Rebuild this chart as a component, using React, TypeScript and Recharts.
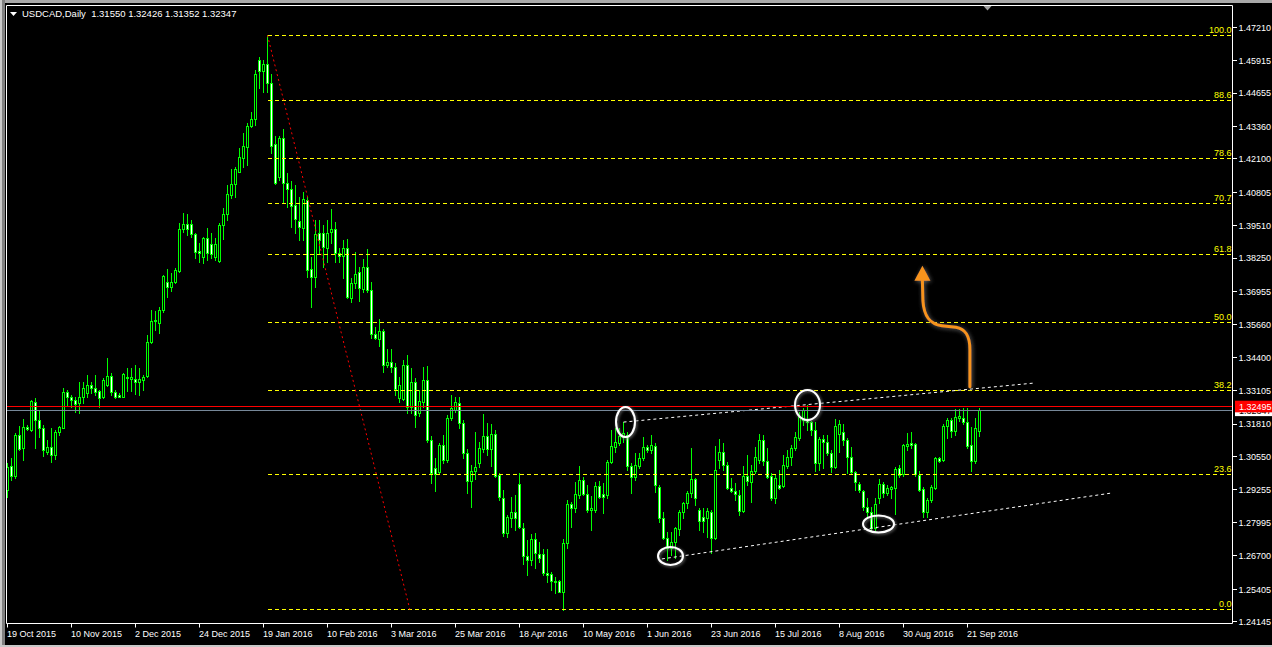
import React from "react";
import { ComposedChart, Bar, XAxis, YAxis, ReferenceLine, ReferenceDot } from "recharts";

// USDCAD daily candles, 19 Oct 2015 .. 26 Sep 2016
const opens = [
  1.2926, 1.3019, 1.2978, 1.3140, 1.3088, 1.3169, 1.3160, 1.3266, 1.3198, 1.3165,
  1.3072, 1.3094, 1.3062, 1.3150, 1.3168, 1.3305, 1.3286, 1.3275, 1.3262, 1.3288,
  1.3301, 1.3334, 1.3321, 1.3308, 1.3286, 1.3334, 1.3368, 1.3305, 1.3295, 1.3288,
  1.3363, 1.3357, 1.3356, 1.3344, 1.3353, 1.3366, 1.3498, 1.3583, 1.3575, 1.3624,
  1.3732, 1.3715, 1.3731, 1.3777, 1.3937, 1.3958, 1.3957, 1.3918, 1.3851, 1.3829,
  1.3902, 1.3879, 1.3831, 1.3815, 1.3952, 1.3996, 1.4071, 1.4111, 1.4161, 1.4213,
  1.4258, 1.4338, 1.4364, 1.4594, 1.4553, 1.4577, 1.4504, 1.4268, 1.4141, 1.4291,
  1.4117, 1.4093, 1.4031, 1.3970, 1.3942, 1.4051, 1.3783, 1.3752, 1.3923, 1.3923,
  1.3865, 1.3927, 1.3938, 1.3846, 1.3834, 1.3865, 1.3670, 1.3729, 1.3772, 1.3705,
  1.3791, 1.3702, 1.3531, 1.3512, 1.3543, 1.3411, 1.3422, 1.3403, 1.3283, 1.3279,
  1.3411, 1.3248, 1.3345, 1.3224, 1.3267, 1.3352, 1.3120, 1.3011, 1.2996, 1.3100,
  1.3042, 1.3205, 1.3236, 1.3263, 1.3186, 1.3069, 1.2960, 1.2999, 1.3030, 1.3085,
  1.3135, 1.3085, 1.3143, 1.2984, 1.2894, 1.2759, 1.2817, 1.2840, 1.2949, 1.2778,
  1.2669, 1.2654, 1.2735, 1.2677, 1.2677, 1.2603, 1.2600, 1.2573, 1.2573, 1.2530,
  1.2720, 1.2871, 1.2856, 1.2905, 1.2964, 1.2910, 1.2848, 1.2848, 1.2941, 1.2910,
  1.2906, 1.3034, 1.3092, 1.3108, 1.3130, 1.3140, 1.3019, 1.2976, 1.3019, 1.3050,
  1.3092, 1.3081, 1.3096, 1.2937, 1.2817, 1.2739, 1.2700, 1.2724, 1.2775, 1.2840,
  1.2875, 1.2914, 1.2968, 1.2848, 1.2821, 1.2817, 1.2840, 1.2739, 1.3042, 1.3073,
  1.3023, 1.2933, 1.2922, 1.2906, 1.2844, 1.2980, 1.2957, 1.2999, 1.3042, 1.3120,
  1.3038, 1.2980, 1.2895, 1.2945, 1.2941, 1.3019, 1.3054, 1.3089, 1.3127, 1.3197,
  1.3197, 1.3189, 1.3158, 1.3030, 1.3123, 1.3112, 1.3069, 1.3015, 1.3143, 1.3151,
  1.3120, 1.3054, 1.2995, 1.2949, 1.2922, 1.2860, 1.2840, 1.2778, 1.2894, 1.2949,
  1.2914, 1.2929, 1.2933, 1.3011, 1.2988, 1.3096, 1.3108, 1.3104, 1.2984, 1.2929,
  1.2840, 1.2887, 1.2933, 1.3050, 1.3042, 1.3174, 1.3197, 1.3154, 1.3205, 1.3205,
  1.3189, 1.3100, 1.3038, 1.3155,
];

const highs = [
  1.3030, 1.3049, 1.3146, 1.3172, 1.3200, 1.3178, 1.3275, 1.3282, 1.3237, 1.3178,
  1.3120, 1.3165, 1.3159, 1.3174, 1.3321, 1.3312, 1.3295, 1.3288, 1.3346, 1.3346,
  1.3372, 1.3343, 1.3372, 1.3314, 1.3359, 1.3437, 1.3379, 1.3314, 1.3301, 1.3381,
  1.3398, 1.3398, 1.3411, 1.3398, 1.3372, 1.3528, 1.3624, 1.3622, 1.3637, 1.3760,
  1.3782, 1.3769, 1.3786, 1.3961, 1.4001, 1.3997, 1.3974, 1.3924, 1.3883, 1.3909,
  1.3941, 1.3924, 1.3902, 1.3961, 1.4019, 1.4109, 1.4170, 1.4180, 1.4252, 1.4310,
  1.4351, 1.4394, 1.4555, 1.4607, 1.4594, 1.4690, 1.4540, 1.4299, 1.4299, 1.4326,
  1.4156, 1.4125, 1.4109, 1.4064, 1.4082, 1.4064, 1.3830, 1.3974, 1.3974, 1.3954,
  1.3974, 1.4016, 1.3966, 1.3865, 1.3896, 1.3900, 1.3748, 1.3849, 1.3791, 1.3822,
  1.3861, 1.3733, 1.3558, 1.3589, 1.3550, 1.3473, 1.3473, 1.3418, 1.3364, 1.3430,
  1.3449, 1.3399, 1.3360, 1.3314, 1.3403, 1.3407, 1.3135, 1.3050, 1.3108, 1.3139,
  1.3217, 1.3294, 1.3286, 1.3286, 1.3197, 1.3085, 1.3023, 1.3151, 1.3112, 1.3220,
  1.3185, 1.3182, 1.3158, 1.2992, 1.2926, 1.2828, 1.2898, 1.2906, 1.2992, 1.2797,
  1.2732, 1.2755, 1.2759, 1.2722, 1.2697, 1.2697, 1.2607, 1.2588, 1.2575, 1.2735,
  1.2887, 1.2879, 1.2956, 1.3019, 1.2976, 1.2945, 1.2902, 1.2956, 1.2960, 1.2953,
  1.3042, 1.3158, 1.3166, 1.3166, 1.3189, 1.3150, 1.3030, 1.3069, 1.3069, 1.3131,
  1.3100, 1.3139, 1.3108, 1.2945, 1.2840, 1.2763, 1.2763, 1.2782, 1.2848, 1.2879,
  1.2922, 1.3089, 1.2972, 1.2856, 1.2856, 1.2856, 1.2848, 1.3096, 1.3123, 1.3108,
  1.3034, 1.2972, 1.2953, 1.2926, 1.3019, 1.3061, 1.3023, 1.3092, 1.3143, 1.3139,
  1.3089, 1.2992, 1.2984, 1.3003, 1.3061, 1.3081, 1.3100, 1.3151, 1.3228, 1.3244,
  1.3255, 1.3193, 1.3189, 1.3131, 1.3139, 1.3139, 1.3081, 1.3201, 1.3197, 1.3182,
  1.3127, 1.3092, 1.2999, 1.2957, 1.2926, 1.2894, 1.2860, 1.2894, 1.2968, 1.2957,
  1.2945, 1.2941, 1.3015, 1.3023, 1.3104, 1.3147, 1.3151, 1.3108, 1.2999, 1.2937,
  1.2894, 1.2945, 1.3054, 1.3054, 1.3182, 1.3205, 1.3205, 1.3240, 1.3240, 1.3244,
  1.3244, 1.3170, 1.3205, 1.32426,
];

const lows = [
  1.2898, 1.2965, 1.2972, 1.3081, 1.3043, 1.3159, 1.3156, 1.3088, 1.3133, 1.3056,
  1.3066, 1.3036, 1.3045, 1.3140, 1.3165, 1.3250, 1.3247, 1.3230, 1.3224, 1.3262,
  1.3288, 1.3301, 1.3295, 1.3247, 1.3282, 1.3330, 1.3295, 1.3282, 1.3286, 1.3286,
  1.3308, 1.3308, 1.3299, 1.3295, 1.3314, 1.3363, 1.3495, 1.3547, 1.3534, 1.3618,
  1.3674, 1.3696, 1.3728, 1.3773, 1.3928, 1.3915, 1.3909, 1.3825, 1.3812, 1.3805,
  1.3818, 1.3825, 1.3818, 1.3812, 1.3899, 1.3974, 1.4058, 1.4064, 1.4161, 1.4180,
  1.4187, 1.4333, 1.4342, 1.4484, 1.4471, 1.4471, 1.4233, 1.4113, 1.4128, 1.4044,
  1.4025, 1.3947, 1.3923, 1.3896, 1.3896, 1.3753, 1.3636, 1.3714, 1.3845, 1.3791,
  1.3810, 1.3884, 1.3810, 1.3810, 1.3748, 1.3671, 1.3655, 1.3709, 1.3659, 1.3694,
  1.3694, 1.3515, 1.3512, 1.3484, 1.3383, 1.3403, 1.3383, 1.3294, 1.3267, 1.3275,
  1.3224, 1.3224, 1.3170, 1.3213, 1.3248, 1.3112, 1.2951, 1.2922, 1.2988, 1.3030,
  1.3034, 1.3197, 1.3228, 1.3166, 1.3050, 1.2914, 1.2860, 1.2968, 1.3015, 1.3073,
  1.3061, 1.3019, 1.2976, 1.2887, 1.2747, 1.2743, 1.2782, 1.2770, 1.2778, 1.2637,
  1.2594, 1.2635, 1.2623, 1.2646, 1.2596, 1.2569, 1.2536, 1.2525, 1.2528, 1.2461,
  1.2700, 1.2782, 1.2840, 1.2895, 1.2906, 1.2840, 1.2770, 1.2840, 1.2894, 1.2836,
  1.2894, 1.3030, 1.3073, 1.3100, 1.3112, 1.3003, 1.2914, 1.2964, 1.3011, 1.3042,
  1.3073, 1.3069, 1.2918, 1.2801, 1.2735, 1.2654, 1.2673, 1.2662, 1.2751, 1.2817,
  1.2856, 1.2898, 1.2867, 1.2770, 1.2763, 1.2743, 1.2681, 1.2735, 1.3011, 1.3003,
  1.2930, 1.2918, 1.2887, 1.2828, 1.2840, 1.2945, 1.2879, 1.2992, 1.3030, 1.3023,
  1.2972, 1.2887, 1.2875, 1.2929, 1.2937, 1.3011, 1.3023, 1.3081, 1.3120, 1.3178,
  1.3158, 1.3139, 1.2999, 1.3003, 1.3011, 1.3061, 1.2996, 1.3011, 1.3073, 1.3100,
  1.2992, 1.2992, 1.2926, 1.2918, 1.2848, 1.2817, 1.2770, 1.2770, 1.2875, 1.2898,
  1.2906, 1.2894, 1.2832, 1.2976, 1.2980, 1.3081, 1.3089, 1.2980, 1.2922, 1.2821,
  1.2821, 1.2879, 1.2929, 1.3034, 1.3038, 1.3127, 1.3131, 1.3139, 1.3193, 1.3182,
  1.3089, 1.2999, 1.3030, 1.31352,
];

const closes = [
  1.3015, 1.2978, 1.3140, 1.3085, 1.3169, 1.3162, 1.3269, 1.3198, 1.3165, 1.3081,
  1.3094, 1.3062, 1.3150, 1.3169, 1.3304, 1.3286, 1.3273, 1.3259, 1.3288, 1.3321,
  1.3334, 1.3321, 1.3304, 1.3284, 1.3353, 1.3366, 1.3304, 1.3288, 1.3288, 1.3376,
  1.3360, 1.3363, 1.3344, 1.3356, 1.3363, 1.3498, 1.3583, 1.3586, 1.3624, 1.3756,
  1.3715, 1.3732, 1.3780, 1.3937, 1.3957, 1.3937, 1.3918, 1.3848, 1.3847, 1.3902,
  1.3844, 1.3842, 1.3879, 1.3954, 1.3997, 1.4073, 1.4111, 1.4171, 1.4217, 1.4259,
  1.4339, 1.4364, 1.4540, 1.4553, 1.4578, 1.4504, 1.4260, 1.4117, 1.4291, 1.4117,
  1.4093, 1.4028, 1.3977, 1.3946, 1.4055, 1.3779, 1.3752, 1.3919, 1.3896, 1.3868,
  1.3923, 1.3938, 1.3846, 1.3834, 1.3865, 1.3674, 1.3729, 1.3764, 1.3709, 1.3791,
  1.3702, 1.3531, 1.3515, 1.3543, 1.3411, 1.3422, 1.3403, 1.3317, 1.3333, 1.3411,
  1.3248, 1.3345, 1.3217, 1.3271, 1.3352, 1.3120, 1.2992, 1.2988, 1.3100, 1.3042,
  1.3205, 1.3244, 1.3267, 1.3186, 1.3069, 1.2960, 1.2999, 1.3015, 1.3089, 1.3135,
  1.3085, 1.3143, 1.2980, 1.2898, 1.2759, 1.2821, 1.2840, 1.2817, 1.2782, 1.2669,
  1.2654, 1.2735, 1.2681, 1.2662, 1.2603, 1.2596, 1.2573, 1.2569, 1.2530, 1.2720,
  1.2871, 1.2856, 1.2910, 1.2964, 1.2910, 1.2848, 1.2856, 1.2941, 1.2898, 1.2898,
  1.3034, 1.3096, 1.3112, 1.3135, 1.3147, 1.3019, 1.2976, 1.3023, 1.3050, 1.3092,
  1.3081, 1.3100, 1.2945, 1.2817, 1.2739, 1.2700, 1.2724, 1.2778, 1.2840, 1.2875,
  1.2914, 1.2968, 1.2895, 1.2805, 1.2805, 1.2844, 1.2739, 1.3003, 1.3073, 1.3023,
  1.2933, 1.2922, 1.2910, 1.2844, 1.2980, 1.2960, 1.2999, 1.3054, 1.3120, 1.3038,
  1.2976, 1.2895, 1.2972, 1.2934, 1.3023, 1.3054, 1.3089, 1.3131, 1.3209, 1.3236,
  1.3189, 1.3158, 1.3030, 1.3123, 1.3112, 1.3069, 1.3015, 1.3174, 1.3182, 1.3120,
  1.3054, 1.2995, 1.2957, 1.2926, 1.2860, 1.2840, 1.2778, 1.2871, 1.2949, 1.2914,
  1.2933, 1.2937, 1.3007, 1.2984, 1.3100, 1.3104, 1.3100, 1.2988, 1.2926, 1.2840,
  1.2887, 1.2937, 1.3050, 1.3038, 1.3174, 1.3197, 1.3154, 1.3209, 1.3213, 1.3189,
  1.3096, 1.3038, 1.3166, 1.32347,
];

const dateTicks = [0, 16, 32, 48, 64, 80, 96, 112, 128, 144, 160, 176, 192, 208, 224, 240];
const dateLabels = [
  "19 Oct 2015", "10 Nov 2015", "2 Dec 2015", "24 Dec 2015", "19 Jan 2016", "10 Feb 2016",
  "3 Mar 2016", "25 Mar 2016", "18 Apr 2016", "10 May 2016", "1 Jun 2016", "23 Jun 2016",
  "15 Jul 2016", "8 Aug 2016", "30 Aug 2016", "21 Sep 2016",
];

const priceTicks = [
  1.4721, 1.45915, 1.44655, 1.4336, 1.421, 1.40805, 1.3951, 1.3825, 1.36955, 1.3566,
  1.344, 1.33105, 1.3181, 1.3055, 1.29255, 1.27995, 1.267, 1.25405, 1.24145,
];

// Fibonacci retracement drawn from the January high down to the May low
const fibHigh = 1.469;
const fibLow = 1.2461;
const fibLevels = [100, 88.6, 78.6, 70.7, 61.8, 50, 38.2, 23.6, 0];
const fibStartBar = 65;
const fibEndBar = 100.6;

const hLinePrice = 1.32495;

// dotted channel lines and circled swing points
const upperTrend = [{ bar: 154, price: 1.3189 }, { bar: 257, price: 1.3341 }];
const lowerTrend = [{ bar: 163.6, price: 1.2658 }, { bar: 276.1, price: 1.2914 }];
const ringAnchors = [
  { bar: 154.5, price: 1.31894 },
  { bar: 200, price: 1.32553 },
  { bar: 165.75, price: 1.26694 },
  { bar: 217.75, price: 1.27936 },
];
const arrowBase = { bar: 240.6, price: 1.33264 };
const shiftBar = 245;

const W = 1272;
const H = 647;
const X_MIN = -0.25;
const X_MAX = 306.25;
const Y_MIN = 1.240745;
const Y_MAX = 1.48056;
const FONT = '"Liberation Sans", Arial, sans-serif';
const LIME = "#00FF00";

const bars = closes.map((c, i) => ({ i, o: opens[i], h: highs[i], l: lows[i], c }));

function Candle(props: any) {
  const { x, y, width, height, payload } = props;
  if (payload == null || height == null) return null;
  const { o, h, l, c } = payload;
  const cx = Math.floor(x + width / 2) + 0.5;
  const k = h - l > 0 ? height / (h - l) : 0;
  const top = Math.round(y);
  const bottom = Math.round(y + height);
  const yO = Math.round(y + (h - o) * k);
  const yC = Math.round(y + (h - c) * k);
  const bTop = Math.min(yO, yC);
  const bBot = Math.max(yO, yC);
  const bull = c >= o;
  return (
    <g>
      <rect x={cx - 0.5} y={top} width={1} height={Math.max(1, bottom - top + 1)} fill={LIME} />
      <rect x={cx - 1.5} y={bTop} width={3} height={bBot - bTop + 1} fill={LIME} />
      {bBot - bTop >= 2 && (
        <rect x={cx - 0.5} y={bTop + 1} width={1} height={bBot - bTop - 1} fill={bull ? "#000000" : "#FFFFFF"} />
      )}
    </g>
  );
}

function PriceTick(props: any) {
  const { x, y, payload } = props;
  return (
    <text x={x} y={y + 3.3} fill="#FFFFFF" fontSize={9} fontFamily={FONT}>
      {Number(payload.value).toFixed(5)}
    </text>
  );
}

function DateTick(props: any) {
  const { x, y, payload } = props;
  const idx = dateTicks.indexOf(payload.value);
  return (
    <text x={x - 0.5} y={y + 7.5} fill="#FFFFFF" fontSize={9} fontFamily={FONT}>
      {idx >= 0 ? dateLabels[idx] : ""}
    </text>
  );
}

const ringSizes = [
  { rx: 9.5, ry: 15 },
  { rx: 12.5, ry: 15 },
  { rx: 12.5, ry: 9 },
  { rx: 15.5, ry: 8.5 },
];

function Ring(id: number) {
  return (props: any) => {
    const { cx, cy } = props;
    const { rx, ry } = ringSizes[id];
    return (
      <g>
        <defs>
          <filter id={`ringShadow${id}`} x="-50%" y="-50%" width="200%" height="200%">
            <feDropShadow dx="1" dy="1" stdDeviation="1.5" floodColor="#7a7a7a" floodOpacity="0.9" />
          </filter>
        </defs>
        <ellipse cx={cx} cy={cy} rx={rx} ry={ry} fill="none" stroke="#FFFFFF" strokeWidth={2} filter={`url(#ringShadow${id})`} />
      </g>
    );
  };
}

function CurvedArrow(props: any) {
  const { cx, cy } = props;
  const d = "M0,0 L0,-37 C0,-52 -5,-58 -14,-59.5 L-28,-61 C-40,-62.5 -46,-70 -47,-86 L-47.5,-106";
  return (
    <g transform={`translate(${cx},${cy})`}>
      <defs>
        <filter id="arrowShadow" x="-50%" y="-50%" width="200%" height="200%">
          <feDropShadow dx="1" dy="1" stdDeviation="2" floodColor="#6e6e6e" floodOpacity="0.9" />
        </filter>
      </defs>
      <g filter="url(#arrowShadow)">
        <path d={d} fill="none" stroke="#F7931E" strokeWidth={3} strokeLinecap="round" />
        <polygon points="-55.5,-106 -39.5,-106 -47.5,-121" fill="#F7931E" />
      </g>
    </g>
  );
}

function FibLabel(text: string) {
  return (props: any) => (
    <text x={props.cx - 1} y={props.cy - 2.5} textAnchor="end" fill="#FFFF00" fontSize={9} fontFamily={FONT}>
      {text}
    </text>
  );
}

function AxisBox(text: string, bg: string, fg: string) {
  return (props: any) => {
    const { cx, cy } = props;
    return (
      <g>
        <rect x={cx + 2.5} y={cy - 5.8} width={W - cx} height={11.6} fill={bg} />
        <text x={cx + 6.5} y={cy + 3.3} fill={fg} fontSize={9} fontFamily={FONT}>
          {text}
        </text>
      </g>
    );
  };
}

function ShiftMark(props: any) {
  const { cx, cy } = props;
  return <polygon points={`${cx - 4},${cy + 0.5} ${cx + 4},${cy + 0.5} ${cx},${cy + 5}`} fill="#A0A0A0" />;
}

export default function App() {
  const last = closes.length - 1;
  const legend = `USDCAD,Daily  ${opens[last].toFixed(5)} ${highs[last].toFixed(5)} ${lows[last].toFixed(5)} ${closes[last].toFixed(5)}`;
  return (
    <div style={{ position: "absolute", left: 0, top: 0, width: W, height: H, background: "#000", overflow: "hidden" }}>
      <ComposedChart
        width={W}
        height={H}
        data={bars}
        margin={{ top: 5.5, right: 0, bottom: 0, left: 6.5 }}
      >
        <XAxis
          dataKey="i"
          type="number"
          domain={[X_MIN, X_MAX]}
          allowDataOverflow
          ticks={dateTicks}
          interval={0}
          height={23.5}
          tickSize={4}
          tickMargin={2}
          axisLine={{ stroke: "#FFFFFF" }}
          tickLine={{ stroke: "#FFFFFF" }}
          tick={<DateTick />}
        />
        <YAxis
          orientation="right"
          type="number"
          domain={[Y_MIN, Y_MAX]}
          allowDataOverflow
          ticks={priceTicks}
          interval={0}
          width={39.5}
          tickSize={4}
          tickMargin={2}
          axisLine={{ stroke: "#FFFFFF" }}
          tickLine={{ stroke: "#FFFFFF", shapeRendering: "crispEdges" }}
          tick={<PriceTick />}
        />
        <Bar
          dataKey={(d: any) => [d.l, d.h]}
          barSize={3}
          isAnimationActive={false}
          shape={(p: any) => <Candle {...p} />}
        />

        {fibLevels.map((lv) => {
          const price = fibLow + (lv / 100) * (fibHigh - fibLow);
          return (
            <ReferenceLine
              key={`fib${lv}`}
              segment={[{ x: fibStartBar, y: price }, { x: X_MAX, y: price }]}
              stroke="#FFFF00"
              strokeDasharray="4 3"
              shapeRendering="crispEdges"
              ifOverflow="visible"
            />
          );
        })}
        {fibLevels.map((lv) => {
          const price = fibLow + (lv / 100) * (fibHigh - fibLow);
          return (
            <ReferenceDot key={`fibl${lv}`} x={X_MAX} y={price} r={1} ifOverflow="visible" shape={FibLabel(lv.toFixed(1))} />
          );
        })}
        <ReferenceLine
          segment={[{ x: fibStartBar, y: fibHigh }, { x: fibEndBar, y: fibLow }]}
          stroke="#FF0000"
          strokeDasharray="2 3"
          ifOverflow="visible"
        />

        <ReferenceLine
          segment={[{ x: upperTrend[0].bar, y: upperTrend[0].price }, { x: upperTrend[1].bar, y: upperTrend[1].price }]}
          stroke="#FFFFFF"
          strokeDasharray="3 3"
          ifOverflow="visible"
        />
        <ReferenceLine
          segment={[{ x: lowerTrend[0].bar, y: lowerTrend[0].price }, { x: lowerTrend[1].bar, y: lowerTrend[1].price }]}
          stroke="#FFFFFF"
          strokeDasharray="3 3"
          ifOverflow="visible"
        />

        <ReferenceLine y={hLinePrice} stroke="#FF0000" shapeRendering="crispEdges" ifOverflow="visible" />
        <ReferenceLine y={closes[last]} stroke="#778899" shapeRendering="crispEdges" ifOverflow="visible" />

        {ringAnchors.map((r, k) => (
          <ReferenceDot key={`ring${k}`} x={r.bar} y={r.price} r={1} ifOverflow="visible" shape={Ring(k)} />
        ))}
        <ReferenceDot x={arrowBase.bar} y={arrowBase.price} r={1} ifOverflow="visible" shape={CurvedArrow} />

        {/* chart frame: top and left edges */}
        <ReferenceLine y={Y_MAX} stroke="#FFFFFF" ifOverflow="visible" />
        <ReferenceLine x={X_MIN} stroke="#FFFFFF" ifOverflow="visible" />
        <ReferenceDot x={shiftBar} y={Y_MAX} r={1} ifOverflow="visible" shape={ShiftMark} />

        <ReferenceDot
          x={X_MAX}
          y={closes[last]}
          r={1}
          ifOverflow="visible"
          shape={AxisBox(closes[last].toFixed(5), "#FFFFFF", "#000000")}
        />
        <ReferenceDot
          x={X_MAX}
          y={hLinePrice}
          r={1}
          ifOverflow="visible"
          shape={AxisBox(hLinePrice.toFixed(5), "#FF0000", "#FFFFFF")}
        />
      </ComposedChart>

      <svg width={W} height={H} style={{ position: "absolute", left: 0, top: 0, pointerEvents: "none" }}>
        <polygon points="10,12 17,12 13.5,16" fill="#FFFFFF" />
        <text x={22} y={17.3} fill="#FFFFFF" fontSize={9.5} fontFamily={FONT} style={{ whiteSpace: "pre" }}>
          {legend}
        </text>
        <rect x={0} y={0} width={W} height={3} fill="#A8A8A8" />
        <rect x={0} y={0} width={2} height={H} fill="#C8C8C8" />
        <rect x={2} y={0} width={3} height={H} fill="#808080" />
        <rect x={0} y={H - 2} width={W} height={2} fill="#C8C8C8" />
      </svg>
    </div>
  );
}
